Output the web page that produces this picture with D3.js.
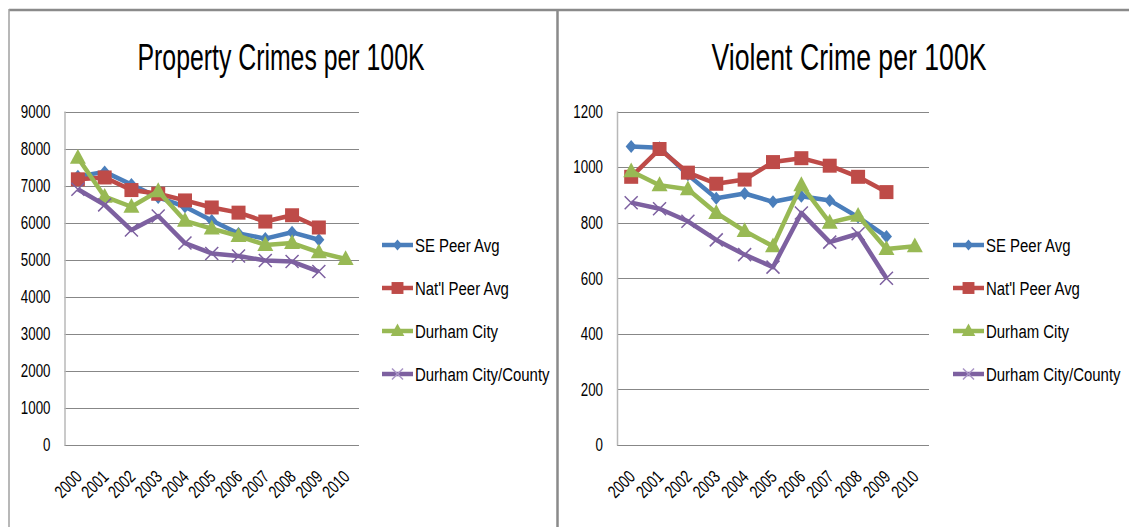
<!DOCTYPE html>
<html>
<head>
<meta charset="utf-8">
<script src="https://cdn.jsdelivr.net/npm/d3@7"></script>
<style>
  body { margin: 0; background: #fff; }
  svg text { font-family: "Liberation Sans", Arial, sans-serif; fill: #000; }
</style>
</head>
<body>
<div id="chart"></div>
<script>
// chart data
var years = ["2000", "2001", "2002", "2003", "2004", "2005", "2006", "2007", "2008", "2009", "2010"];
var seriesNames = ["SE Peer Avg", "Nat'l Peer Avg", "Durham City", "Durham City/County"];

// property crimes per 100K (null = no value)
var propSE = [7250, 7370, 7030, 6680, 6430, 6060, 5710, 5570, 5740, 5540, null];
var propNat = [7170, 7220, 6880, 6780, 6600, 6410, 6270, 6030, 6200, 5870, null];
var propDurham = [7750, 6700, 6430, 6850, 6050, 5840, 5640, 5400, 5450, 5200, 5020];
var propCounty = [6900, 6480, 5800, 6180, 5450, 5170, 5100, 4980, 4950, 4680, null];
var propTicks = [0, 1000, 2000, 3000, 4000, 5000, 6000, 7000, 8000, 9000];

// violent crime per 100K
var violSE = [1074, 1070, 972, 888, 905, 875, 895, 880, 820, 750, null];
var violNat = [965, 1065, 980, 940, 955, 1018, 1032, 1005, 965, 910, null];
var violDurham = [985, 935, 920, 835, 770, 715, 935, 800, 825, 705, 715];
var violCounty = [872, 850, 805, 738, 685, 640, 835, 730, 760, 600, null];
var violTicks = [0, 200, 400, 600, 800, 1000, 1200];

var colors = ["#4a7ebb", "#be4b48", "#98b954", "#7d60a0"];
var markers = ["diamond", "square", "triangle", "cross"];

var svgWidth = 1129;
var svgHeight = 527;

var svg = d3.select("#chart")
    .append("svg")
    .attr("width", svgWidth)
    .attr("height", svgHeight);

// frame lines of the two chart boxes
svg.append("line").attr("x1", 9).attr("x2", svgWidth).attr("y1", 10).attr("y2", 10)
    .attr("stroke", "#8a8a8a").attr("stroke-width", 2.5);
svg.append("line").attr("x1", 9).attr("x2", 9).attr("y1", 9).attr("y2", svgHeight)
    .attr("stroke", "#a0a0a0").attr("stroke-width", 1.5);
svg.append("line").attr("x1", 557.5).attr("x2", 557.5).attr("y1", 9).attr("y2", svgHeight)
    .attr("stroke", "#8a8a8a").attr("stroke-width", 2.5);

function markerPath(type, size) {
    var s = size;
    if (type == "diamond") return `M0,${-s}L${s * 0.85},0L0,${s}L${-s * 0.85},0Z`;
    if (type == "square") return `M${-s},${-s}H${s}V${s}H${-s}Z`;
    if (type == "triangle") return `M0,${-s * 1.1}L${s},${s * 0.75}L${-s},${s * 0.75}Z`;
    return `M${-s},${-s}L${s},${s}M${s},${-s}L${-s},${s}`;
}

function drawMarker(g, type, color, x, y, small) {
    var sizes = { diamond: 6.5, square: 7, triangle: 8, cross: 6.5 };
    var s = sizes[type] * (small ? 0.85 : 1);
    var p = g.append("path")
        .attr("d", markerPath(type, s))
        .attr("transform", `translate(${x},${y})`);
    if (type == "cross") {
        p.attr("fill", "none").attr("stroke", small ? "#a995c6" : color).attr("stroke-width", 1.5);
    } else {
        p.attr("fill", color).attr("stroke", "none");
    }
}

function drawPanel(opt) {
    var g = svg.append("g");

    var xScale = d3.scaleBand()
        .domain(years)
        .range([opt.left, opt.right]);

    var yScale = d3.scaleLinear()
        .domain([0, d3.max(opt.ticks)])
        .range([445, 111.5]);

    // gridlines
    g.append("g")
        .selectAll("line")
        .data(opt.ticks)
        .enter()
        .append("line")
        .attr("x1", opt.left)
        .attr("x2", opt.right)
        .attr("y1", d => Math.round(yScale(d)) + 0.5)
        .attr("y2", d => Math.round(yScale(d)) + 0.5)
        .attr("stroke", "#878787")
        .attr("stroke-width", 1);

    // y axis line
    g.append("line")
        .attr("x1", opt.left + 0.5).attr("x2", opt.left + 0.5)
        .attr("y1", yScale(d3.max(opt.ticks))).attr("y2", 445.5)
        .attr("stroke", "#b8b8b8").attr("stroke-width", 1.5);

    // y tick labels
    var leftAxis = d3.axisLeft(yScale)
        .tickValues(opt.ticks)
        .tickFormat(d3.format("d"))
        .tickSize(0)
        .tickPadding(14);
    var yAxisG = g.append("g")
        .attr("transform", `translate(${opt.left}, 0)`)
        .call(leftAxis);
    yAxisG.select(".domain").remove();
    yAxisG.selectAll("text")
        .attr("class", "digits")
        .style("font-size", "18px")
        .style("font-family", "'Liberation Sans', Arial, sans-serif");

    // x labels, rotated
    g.append("g")
        .selectAll("text")
        .data(years)
        .enter()
        .append("text")
        .attr("class", "digits")
        .attr("transform", d => `translate(${xScale(d) + xScale.bandwidth() / 2 + 5}, 478) rotate(-45)`)
        .attr("text-anchor", "end")
        .style("font-size", "18px")
        .text(d => d);

    // series lines and markers
    opt.series.forEach(function (values, i) {
        var pts = years.map((y, j) => ({ year: y, v: values[j] })).filter(d => d.v != null);
        var line = d3.line()
            .x(d => xScale(d.year) + xScale.bandwidth() / 2)
            .y(d => yScale(d.v));
        g.append("path")
            .datum(pts)
            .attr("d", line)
            .attr("fill", "none")
            .attr("stroke", colors[i])
            .attr("stroke-width", 4.5)
            .attr("stroke-linejoin", "round");
        var mg = g.append("g");
        pts.forEach(function (d) {
            drawMarker(mg, markers[i], colors[i], xScale(d.year) + xScale.bandwidth() / 2, yScale(d.v), false);
        });
    });

    // title
    g.append("text")
        .attr("x", opt.titleX)
        .attr("y", 70)
        .attr("text-anchor", "middle")
        .attr("textLength", opt.titleW)
        .attr("lengthAdjust", "spacingAndGlyphs")
        .style("font-size", "37px")
        .text(opt.title);

    // legend
    var lg = g.append("g");
    seriesNames.forEach(function (name, i) {
        var ly = 245 + i * 43;
        lg.append("line")
            .attr("x1", opt.legendX).attr("x2", opt.legendX + 31)
            .attr("y1", ly).attr("y2", ly)
            .attr("stroke", colors[i]).attr("stroke-width", 4.5);
        drawMarker(lg, markers[i], colors[i], opt.legendX + 15.5, ly, true);
        lg.append("text")
            .attr("class", "narrow")
            .attr("x", opt.legendX + 33)
            .attr("y", ly + 6.5)
            .style("font-size", "18px")
            .text(name);
    });
}

drawPanel({
    left: 64.5, right: 359,
    ticks: propTicks,
    series: [propSE, propNat, propDurham, propCounty],
    title: "Property Crimes per 100K",
    titleX: 281, titleW: 287,
    legendX: 382
});

drawPanel({
    left: 617, right: 929,
    ticks: violTicks,
    series: [violSE, violNat, violDurham, violCounty],
    title: "Violent Crime per 100K",
    titleX: 849, titleW: 275,
    legendX: 953
});

// squeeze the small texts to the narrow look of the original font
function squeeze(sel, f) {
    svg.selectAll(sel).each(function () {
        var w = this.getComputedTextLength();
        d3.select(this)
            .attr("textLength", w * f)
            .attr("lengthAdjust", "spacingAndGlyphs");
    });
}
squeeze("text.narrow", 0.83);
squeeze("text.digits", 0.74);
</script>
</body>
</html>
